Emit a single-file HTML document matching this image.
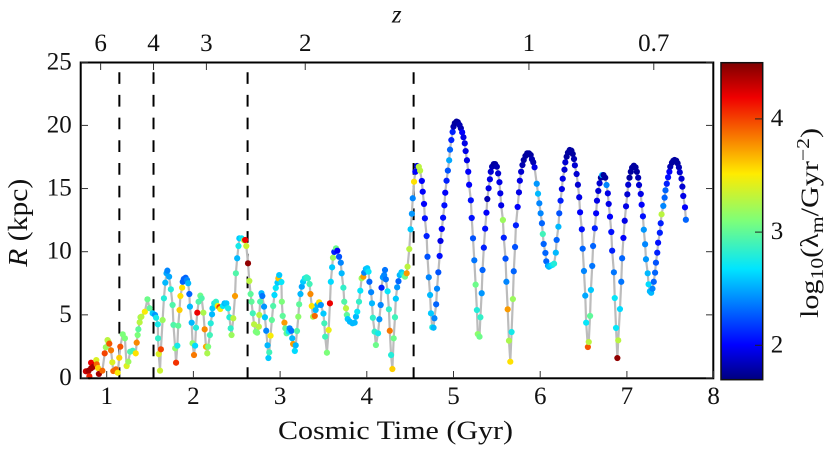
<!DOCTYPE html>
<html lang="en">
<head>
<meta charset="utf-8">
<title>Radius versus cosmic time</title>
<style>
html,body{margin:0;padding:0;background:#fff;width:830px;height:453px;overflow:hidden}
svg{display:block}
text{font-family:"Liberation Serif","DejaVu Serif",serif;fill:#111;font-size:25px}
</style>
</head>
<body>
<svg id="chart" xmlns="http://www.w3.org/2000/svg" width="830" height="453" viewBox="0 0 830 453">
  <defs>
    <linearGradient id="jet-gradient" x1="0" y1="1" x2="0" y2="0">
      <stop offset="0" stop-color="#00007f"/>
      <stop offset="0.11" stop-color="#0000ff"/>
      <stop offset="0.35" stop-color="#00e5ff"/>
      <stop offset="0.5" stop-color="#7cff7a"/>
      <stop offset="0.65" stop-color="#ffeb00"/>
      <stop offset="0.89" stop-color="#f00000"/>
      <stop offset="1" stop-color="#7f0000"/>
    </linearGradient>
  </defs>
  <g id="epochs"></g>
  <path id="track" fill="none" stroke="#bcbcbc" stroke-width="2.2" stroke-linejoin="round"></path>
  <g id="points"></g>
  <rect x="80.7" y="62.5" width="632.6" height="315.8" fill="none" stroke="#000" stroke-width="2"></rect>
  <g id="axes"></g>
  <text x="278" y="439" style="font-size:26px" textLength="235" lengthAdjust="spacingAndGlyphs">Cosmic Time (Gyr)</text>
  <text transform="translate(27,266.7) rotate(-90)" style="font-size:27px" textLength="88" lengthAdjust="spacingAndGlyphs"><tspan font-style="italic">R</tspan> (kpc)</text>
  <text x="396.7" y="22.7" text-anchor="middle" font-style="italic">z</text>
  <rect x="721" y="62.7" width="41.7" height="317" fill="url(#jet-gradient)" stroke="#111" stroke-width="1.5"></rect>
  <g id="cbar"></g>
  <text transform="translate(818,318) rotate(-90)" textLength="190" lengthAdjust="spacingAndGlyphs">log<tspan dy="5" style="font-size:18px">10</tspan><tspan dy="-5">(λ</tspan><tspan dy="5" style="font-size:18px">m</tspan><tspan dy="-5">/Gyr</tspan><tspan dy="-9" style="font-size:18px">−2</tspan><tspan dy="9">)</tspan></text>
</svg>
<script>
const cosmicTime = [
.76,.79,.80,.82,.82,.845,.88,.885,.90,.91,
.95,.977,.99,1.01,1.02,1.03,1.05,1.065,1.076,1.107,
1.127,1.145,1.157,1.185,1.21,1.23,1.25,1.27,1.30,1.335,
1.346,1.357,1.365,1.38,1.39,1.40,1.44,1.47,1.495,1.53,
1.557,1.57,1.59,1.592,1.60,1.615,1.625,1.645,1.66,1.676,
1.69,1.70,1.72,1.74,1.76,1.77,1.79,1.80,1.815,1.825,
1.84,1.85,1.87,1.877,1.89,1.91,1.926,1.94,1.953,1.96,
1.98,1.99,2.007,2.02,2.03,2.045,2.06,2.08,2.095,2.115,
2.13,2.145,2.16,2.17,2.19,2.20,2.215,2.22,2.24,2.26,
2.28,2.30,2.31,2.34,2.36,2.38,2.40,2.415,2.43,2.44,
2.46,2.48,2.49,2.505,2.52,2.53,2.555,2.585,2.597,2.61,
2.63,2.645,2.66,2.67,2.685,2.70,2.72,2.735,2.755,2.76,
2.77,2.785,2.795,2.815,2.825,2.84,2.855,2.865,2.875,2.89,
2.905,2.92,2.935,2.95,2.97,2.98,2.99,3.015,3.02,3.03,
3.05,3.06,3.075,3.10,3.11,3.13,3.14,3.15,3.17,3.18,
3.195,3.21,3.22,3.235,3.25,3.265,3.285,3.305,3.32,3.34,
3.35,3.365,3.38,3.40,3.41,3.43,3.45,3.47,3.50,3.51,
3.52,3.54,3.56,3.575,3.585,3.60,3.61,3.625,3.645,3.66,
3.68,3.70,3.71,3.73,3.74,3.76,3.77,3.78,3.805,3.835,
3.86,3.875,3.89,3.91,3.925,3.94,3.96,3.97,3.99,4.005,
4.02,4.03,4.05,4.06,4.07,4.09,4.105,4.13,4.145,4.16,
4.17,4.185,4.2,4.21,4.22,4.24,4.255,4.265,4.28,4.295,
4.31,4.325,4.335,4.35,4.365,4.38,4.40,4.42,4.44,4.46,
4.47,4.49,4.505,4.52,4.53,4.545,4.56,4.58,4.60,4.615,
4.635,4.645,4.66,4.67,4.69,4.70,4.715,4.73,4.74,4.755,
4.77,4.78,4.80,4.81,4.825,4.84,4.85,4.865,4.88,4.895,
4.905,4.92,4.935,4.95,4.96,4.975,4.99,5.0,5.015,5.035,
5.05,5.07,5.085,5.10,5.115,5.13,5.14,5.155,5.17,5.18,
5.20,5.21,5.225,5.24,5.255,5.27,5.28,5.30,5.31,5.325,
5.335,5.35,5.365,5.38,5.39,5.405,5.42,5.43,5.445,5.465,
5.48,5.50,5.515,5.53,5.54,5.55,5.57,5.58,5.60,5.61,
5.625,5.64,5.655,5.67,5.685,5.695,5.71,5.72,5.74,5.755,
5.765,5.78,5.795,5.81,5.83,5.85,5.87,5.89,5.905,5.92,
5.935,5.96,5.975,5.99,6.005,6.02,6.03,6.04,6.06,6.07,
6.09,6.10,6.12,6.14,6.16,6.18,6.19,6.21,6.22,6.235,
6.25,6.26,6.28,6.29,6.305,6.32,6.34,6.36,6.375,6.39,
6.40,6.42,6.435,6.45,6.46,6.48,6.49,6.505,6.52,6.53,
6.55,6.56,6.575,6.585,6.60,6.61,6.63,6.645,6.655,6.67,
6.685,6.70,6.715,6.73,6.75,6.765,6.78,6.79,6.805,6.82,
6.83,6.85,6.86,6.875,6.89,6.90,6.92,6.935,6.945,6.96,
6.975,6.99,7.005,7.015,7.03,7.045,7.06,7.08,7.10,7.115,
7.13,7.14,7.16,7.17,7.185,7.195,7.21,7.22,7.24,7.25,
7.265,7.28,7.295,7.31,7.325,7.335,7.35,7.36,7.38,7.39,
7.40,7.42,7.435,7.445,7.46,7.475,7.49,7.50,7.52,7.535,
7.55,7.57,7.585,7.60,7.61,7.63,7.64,7.65,7.67,7.68
];
const radiusKpc = [
.53,.58,.13,.77,1.21,.89,1.42,1.08,.79,.32,
.58,1.95,2.43,3.0,2.87,2.72,2.19,1.24,.55,.69,
.42,1.6,2.48,3.46,3.14,.95,1.29,2.08,2.16,1.95,
2.8,3.4,3.85,4.41,4.81,4.85,5.25,6.23,5.52,5.12,
4.99,4.77,4.25,3.14,1.9,.58,2.27,4.59,6.31,7.55,
8.29,8.5,8.02,7.02,5.78,4.2,2.35,1.21,2.56,4.14,
5.38,6.49,7.15,7.62,7.84,7.94,7.76,7.5,6.65,5.65,
4.38,2.75,1.82,2.56,3.98,5.17,6.04,6.52,6.31,5.17,
3.85,2.48,1.95,2.48,3.4,4.33,5.04,5.52,5.91,6.04,
5.7,5.6,5.46,5.7,5.91,5.91,5.52,4.81,3.93,3.4,
4.73,6.49,8.29,9.48,10.45,11.06,11.06,10.9,10.93,10.45,
9.08,7.68,6.65,6.04,5.12,4.25,3.67,3.59,4.06,4.99,
6.04,6.71,6.49,5.65,4.81,3.74,2.59,1.58,2.03,3.35,
4.59,5.7,6.57,7.13,7.55,7.89,8.15,7.6,6.04,4.91,
4.38,3.93,3.54,3.67,3.93,3.74,3.14,2.69,2.14,2.59,
3.72,4.85,5.83,6.65,7.23,7.62,7.89,7.97,7.89,7.44,
6.65,5.7,4.85,4.91,5.38,5.78,5.99,5.78,5.1,4.33,
3.27,2.0,3.8,5.91,7.62,8.76,9.53,9.98,10.27,10.08,
9.6,9.13,8.29,7.15,6.04,5.52,4.99,4.67,4.46,4.33,
4.38,4.85,5.25,6.04,6.91,7.89,8.02,8.34,8.63,8.69,
8.42,7.62,6.79,5.91,4.77,3.67,2.61,3.54,4.65,5.78,
7.15,7.97,8.15,8.55,7.81,6.86,5.44,3.74,1.82,.71,
3.14,4.81,6.28,7.18,7.66,8.15,8.37,8.21,8.02,8.29,
8.81,10.21,11.77,13.0,14.23,15.54,16.33,16.79,16.73,16.42,
15.6,14.75,13.78,12.64,11.24,9.6,7.97,6.57,5.12,4.01,
3.98,4.73,5.83,7.07,8.37,9.66,10.85,11.8,12.69,13.67,
14.67,15.62,16.42,17.24,18.08,18.84,19.48,19.9,20.17,20.3,
20.25,20.03,19.77,19.45,19.06,18.58,17.97,17.24,16.33,15.3,
14.07,12.67,11.06,9.32,7.39,5.38,3.48,3.27,4.81,6.71,
8.55,10.32,11.82,13.09,14.17,15.02,15.73,16.33,16.73,16.94,
16.94,16.73,16.2,15.5,14.62,13.67,12.51,11.11,9.45,7.62,
5.44,2.95,1.29,3.64,6.25,8.45,10.37,12.09,13.54,14.7,
15.62,16.33,16.86,17.26,17.58,17.79,17.79,17.66,17.32,17.08,
16.68,15.38,14.59,13.83,13.04,12.25,11.4,10.61,9.9,9.24,
8.89,8.81,8.89,8.95,9.05,9.92,10.93,11.98,13.04,14.04,
14.96,15.78,16.49,17.08,17.52,17.84,18.05,18.0,17.74,17.34,
16.84,16.15,15.3,14.31,13.12,11.77,10.24,8.47,6.52,4.38,
2.45,2.85,4.91,6.97,8.87,10.45,11.85,13.04,14.04,14.81,
15.42,15.86,16.07,16.07,15.86,15.28,14.62,13.78,12.77,11.56,
10.08,8.37,6.33,3.96,1.58,2.98,5.46,7.62,9.48,11.09,
12.45,13.59,14.54,15.3,15.86,16.33,16.65,16.81,16.68,16.33,
15.86,15.28,14.57,13.72,12.8,11.74,10.59,9.4,8.29,7.42,
6.86,6.75,7.07,7.62,8.34,9.13,9.92,10.71,11.5,12.25,
12.96,13.62,14.28,14.86,15.38,15.89,16.33,16.73,17.05,17.2,
17.26,17.2,17,16.68,16.29,15.78,15.15,14.41,13.51,12.53
];
const logLambda = [
4.3,4.4,4.1,4.4,4.2,4.4,3.4,3.9,3.6,4.4,
3.9,4.0,3.2,3.3,3.3,3.95,3.85,3.4,3.9,3.9,
3.5,3.6,3.95,3.1,3.1,3.4,3.2,2.95,2.9,3.55,
3.8,3.1,3.0,3.3,3.2,3.3,3.5,3.05,3.0,2.6,
2.45,2.75,2.75,2.85,3.4,3.35,4.0,3.2,2.8,2.55,
2.5,2.4,2.5,2.8,2.95,2.95,3.15,4.05,2.75,3.0,
3.6,3.55,3.55,2.3,2.3,2.3,2.4,2.55,2.3,2.55,
2.55,3.15,3.85,2.65,2.8,4.2,2.95,3.05,2.95,3.25,
3.8,3.7,3.25,3.1,2.9,2.8,2.55,2.6,2.75,2.85,
3.5,4.05,3.5,2.7,2.55,2.6,2.75,2.8,2.85,3.2,
3.3,3.75,2.95,2.55,2.75,2.6,2.7,3.3,4.2,3.35,
4.45,3.3,3.0,3.0,2.9,3.3,3.1,3.1,3.3,3.3,
2.95,2.55,2.35,2.45,2.6,2.4,2.55,2.6,2.9,3.5,
3.0,2.95,2.65,2.7,2.6,3.65,2.6,2.7,3.1,3.0,
3.75,3.0,3.0,2.7,2.4,2.35,2.55,3.75,2.65,2.55,
2.95,3.15,3.0,2.55,2.5,2.6,2.75,2.85,2.85,2.9,
3.8,3.55,3.25,3.9,2.55,2.55,3.55,2.45,2.6,2.9,
2.9,3.1,3.45,4.2,2.65,2.6,3.2,2.1,3.05,2.0,
2.25,2.4,2.55,2.85,2.95,3.3,3.0,2.6,2.55,2.55,
2.55,2.55,2.7,2.85,2.7,3.2,3.75,2.4,2.55,2.6,
2.7,2.3,2.4,2.55,2.85,2.85,3.05,2.75,2.45,2.4,
2.1,2.45,2.4,2.35,2.35,2.7,2.85,3.85,2.8,3.6,
3.05,2.9,2.6,2.45,2.3,2.55,2.6,2.75,3.05,3.75,
3.3,3.3,2.6,2.45,2.4,3.55,2.0,1.9,3.3,3.3,
2.0,2.0,2.0,2.05,2.1,2.25,2.4,2.55,2.6,2.8,
2.55,2.4,2.3,2.4,2.25,2.05,1.95,2.0,2.05,2.05,
2.0,2.1,2.25,2.5,2.3,2.1,2.1,1.82,1.78,1.78,
1.78,1.82,1.82,2.0,1.95,1.95,1.95,1.95,2.0,2.0,
2.05,2.05,2.25,2.35,3.05,2.8,3.15,3.05,2.85,2.45,
2.3,2.1,2.05,2.0,1.82,1.95,1.95,1.9,1.82,1.78,
1.78,1.82,1.9,1.95,1.95,1.95,3.2,2.1,2.25,2.4,
3.75,3.25,3.55,2.75,3.2,2.3,2.25,2.1,2.0,1.95,
1.95,1.9,1.82,1.78,1.78,1.78,1.78,1.78,1.82,1.82,
1.95,2.45,2.55,2.4,2.4,2.3,2.9,2.3,2.3,2.3,
2.45,2.55,2.6,2.7,2.8,2.55,2.3,2.55,2.25,2.1,
1.95,1.95,1.9,1.9,1.78,1.78,1.78,1.78,1.78,1.82,
1.9,1.9,1.9,1.95,2.0,2.05,2.3,2.4,2.5,2.7,
3.95,3.3,3.0,2.6,2.35,2.3,2.1,2.0,1.95,1.9,
1.9,1.78,2.55,1.78,1.78,2.4,1.95,1.95,2.0,2.05,
2.1,2.35,2.7,2.7,4.45,3.3,2.65,2.35,2.3,2.0,
1.95,1.95,1.9,1.9,1.78,1.78,1.78,1.78,1.78,1.78,
1.82,1.9,1.95,2.0,2.05,2.45,2.4,2.45,2.55,2.65,
2.55,2.55,2.4,2.3,2.3,2.25,2.1,2.05,2.1,2.1,
3.3,2.4,2.3,2.3,2.1,2.05,2.0,1.82,1.78,1.78,
1.78,1.78,1.78,1.82,1.9,1.9,1.9,1.95,2.0,2.3
];
const xTickValues = [1,2,3,4,5,6,7,8];
const yTickValues = [0,5,10,15,20,25];
const redshiftLabels = ["6","4","3","2","1","0.7"];
const redshiftTimes = [0.93,1.54,2.15,3.29,5.87,7.31];
const epochTimes = [1.146,1.54,2.625,4.54];
const colorbarTicks = [2,3,4];

const svgNS = "http://www.w3.org/2000/svg";
const xScale = t => 106.7 + (t - 1) * 86.7;
const yScale = r => 378 - r * 12.63;
const cScale = v => 345.3 - (v - 2) * 113.2;
const jetStops = [[0,0,0,127],[0.11,0,0,255],[0.35,0,229,255],[0.5,124,255,122],[0.65,255,235,0],[0.89,240,0,0],[1,127,0,0]];
function jet(v){
  const f = Math.max(0, Math.min(1, (v - 1.7) / 2.8));
  for (let i = 1; i < jetStops.length; i++){
    if (f <= jetStops[i][0]){
      const a = jetStops[i-1], b = jetStops[i], k = (f - a[0]) / (b[0] - a[0]);
      return "rgb(" + [1,2,3].map(j => Math.round(a[j] + (b[j] - a[j]) * k)).join(",") + ")";
    }
  }
  return "rgb(127,0,0)";
}
function make(tag, parent, attrs, txt){
  const el = document.createElementNS(svgNS, tag);
  for (const k in attrs) el.setAttribute(k, attrs[k]);
  if (txt !== undefined) el.textContent = txt;
  parent.appendChild(el);
  return el;
}
const epochs = document.getElementById("epochs");
epochTimes.forEach(t => {
  const l = make("line", epochs, {x1:xScale(t), x2:xScale(t), y1:379, y2:63.5, stroke:"#000", "stroke-width":2, "stroke-dasharray":"11.7 11"});
  
  
});
document.getElementById("track").setAttribute("d", cosmicTime.map((t,i) => (i ? "L" : "M") + xScale(t).toFixed(2) + " " + yScale(radiusKpc[i]).toFixed(2)).join(""));
const points = document.getElementById("points");
cosmicTime.forEach((t,i) => {
  const c = make("circle", points, {cx:xScale(t).toFixed(2), cy:yScale(radiusKpc[i]).toFixed(2), r:3.1, fill:jet(logLambda[i])});
  
  
});
const axes = document.getElementById("axes");
function tick(x1,y1,x2,y2){
  const l = make("line", axes, {x1,y1,x2,y2,stroke:"#333","stroke-width":1});
  
  
}
xTickValues.forEach(v => {
  const x = xScale(v);
  tick(x,378,x,371);
  const t = make("text", axes, {x:x, y:404, "text-anchor":"middle"}, String(v));
  
  
});
yTickValues.forEach(v => {
  const y = yScale(v);
  tick(81,y,88,y);
  tick(713,y,706,y);
  const t = make("text", axes, {x:71.7, y:y + 7, "text-anchor":"end"}, String(v));
  
  
});
redshiftTimes.forEach((v,i) => {
  const x = xScale(v);
  tick(x,63,x,70);
  const t = make("text", axes, {x:x, y:51, "text-anchor":"middle"}, redshiftLabels[i]);
  
  
});
const cbar = document.getElementById("cbar");
colorbarTicks.forEach(v => {
  const y = cScale(v);
  const l = make("line", cbar, {x1:755, x2:762.7, y1:y, y2:y, stroke:"#222", "stroke-width":1});
  
  
  const t = make("text", cbar, {x:770.7, y:y + 7}, String(v));
  
  
});
</script>
</body>
</html>
